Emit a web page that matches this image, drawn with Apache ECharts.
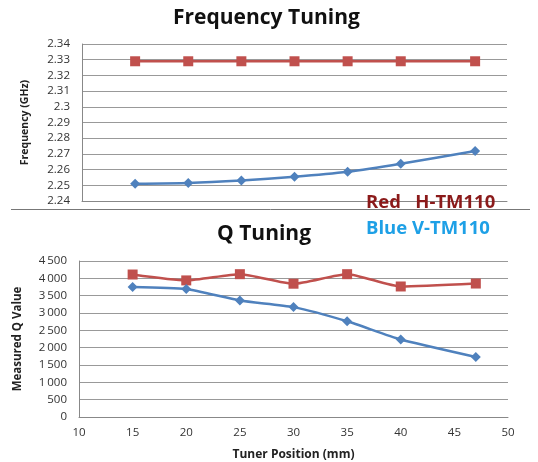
<!DOCTYPE html>
<html>
<head>
<meta charset="utf-8">
<script src="https://cdn.jsdelivr.net/npm/echarts@6/dist/echarts.min.js"></script>
<style>html,body{margin:0;padding:0;background:#fff}#c{width:538px;height:462px}</style>
</head>
<body>
<div id="c"></div>
<script>
var positions = [15, 20, 25, 30, 35, 40, 47];
var freqH = [2.329, 2.329, 2.329, 2.329, 2.329, 2.329, 2.329];
var freqV = [2.251, 2.2515, 2.2531, 2.2554, 2.2586, 2.2637, 2.2719];
var qH = [4110, 3940, 4120, 3845, 4120, 3765, 3850];
var qV = [3750, 3690, 3360, 3170, 2760, 2235, 1730];

var red = '#c0504d', blue = '#4f81bd';
var FF = 'Open Sans, Liberation Sans, sans-serif';
function pairs(xs, ys){ return xs.map(function(x,i){return [x, ys[i]];}); }
function qFmt(v){ var s = String(v); return v >= 1000 ? s.slice(0, s.length-3) + '\u2009' + s.slice(-3) : s; }

var axisLabel = {color:'#333', fontSize:11.5, fontFamily:FF};
var chart = echarts.init(document.getElementById('c'));
chart.setOption({
  animation:false,
  title:[
    {text:'Frequency Tuning', left:168, top:3, textStyle:{fontSize:21, fontWeight:'bold', color:'#111', fontFamily:FF}},
    {text:'Q Tuning', left:212, top:219, textStyle:{fontSize:21, fontWeight:'bold', color:'#111', fontFamily:FF}}
  ],
  grid:[
    {left:82, right:31, top:44, height:157},
    {left:79, right:30, top:261, height:158}
  ],
  xAxis:[
    {gridIndex:0, type:'value', min:10, max:50, interval:5, axisLabel:{show:false}, axisTick:{show:false},
     axisLine:{lineStyle:{color:'#888'}}, splitLine:{show:false}},
    {gridIndex:1, type:'value', min:10, max:50, interval:5, axisLabel:Object.assign({margin:10}, axisLabel), axisTick:{show:false},
     axisLine:{lineStyle:{color:'#888'}}, splitLine:{show:false},
     name:'Tuner Position (mm)', nameLocation:'middle', nameGap:32,
     nameTextStyle:{fontSize:12, fontWeight:'bold', color:'#222', fontFamily:FF}}
  ],
  yAxis:[
    {gridIndex:0, type:'value', min:2.24, max:2.34, interval:0.01,
     axisLabel:Object.assign({margin:12, formatter:function(v){return String(+v.toFixed(2));}}, axisLabel),
     axisTick:{show:false}, axisLine:{show:true, lineStyle:{color:'#888'}},
     splitLine:{lineStyle:{color:'#999'}},
     name:'Frequency (GHz)', nameLocation:'middle', nameGap:51,
     nameTextStyle:{fontSize:10.5, fontWeight:'bold', color:'#222', fontFamily:FF}},
    {gridIndex:1, type:'value', min:0, max:4500, interval:500,
     axisLabel:Object.assign({margin:12, formatter:qFmt}, axisLabel),
     axisTick:{show:false}, axisLine:{show:true, lineStyle:{color:'#888'}},
     splitLine:{lineStyle:{color:'#999'}},
     name:'Measured Q Value', nameLocation:'middle', nameGap:55,
     nameTextStyle:{fontSize:11.5, fontWeight:'bold', color:'#222', fontFamily:FF}}
  ],
  series:[
    {type:'line', xAxisIndex:0, yAxisIndex:0, data:pairs(positions, freqH), symbol:'rect', symbolSize:10,
     smooth:0.2, lineStyle:{color:red, width:2.5}, itemStyle:{color:red}},
    {type:'line', xAxisIndex:0, yAxisIndex:0, data:pairs(positions, freqV), symbol:'diamond', symbolSize:10,
     smooth:0.2, lineStyle:{color:blue, width:2.5}, itemStyle:{color:blue}},
    {type:'line', xAxisIndex:1, yAxisIndex:1, data:pairs(positions, qH), symbol:'rect', symbolSize:10,
     smooth:0.2, lineStyle:{color:red, width:2.5}, itemStyle:{color:red}},
    {type:'line', xAxisIndex:1, yAxisIndex:1, data:pairs(positions, qV), symbol:'diamond', symbolSize:10,
     smooth:0.2, lineStyle:{color:blue, width:2.5}, itemStyle:{color:blue}}
  ],
  graphic:[
    {type:'line', shape:{x1:11, y1:209.5, x2:530, y2:209.5}, style:{stroke:'#777', lineWidth:1}, z:1},
    {type:'text', left:366, top:193, z:10, style:{text:'Red   H-TM110', fill:'#8b1a1a', font:'bold 18.5px ' + FF}},
    {type:'text', left:366, top:219, z:10, style:{text:'Blue V-TM110', fill:'#1ea0e6', font:'bold 18.5px ' + FF}}
  ]
});
</script>
</body>
</html>
